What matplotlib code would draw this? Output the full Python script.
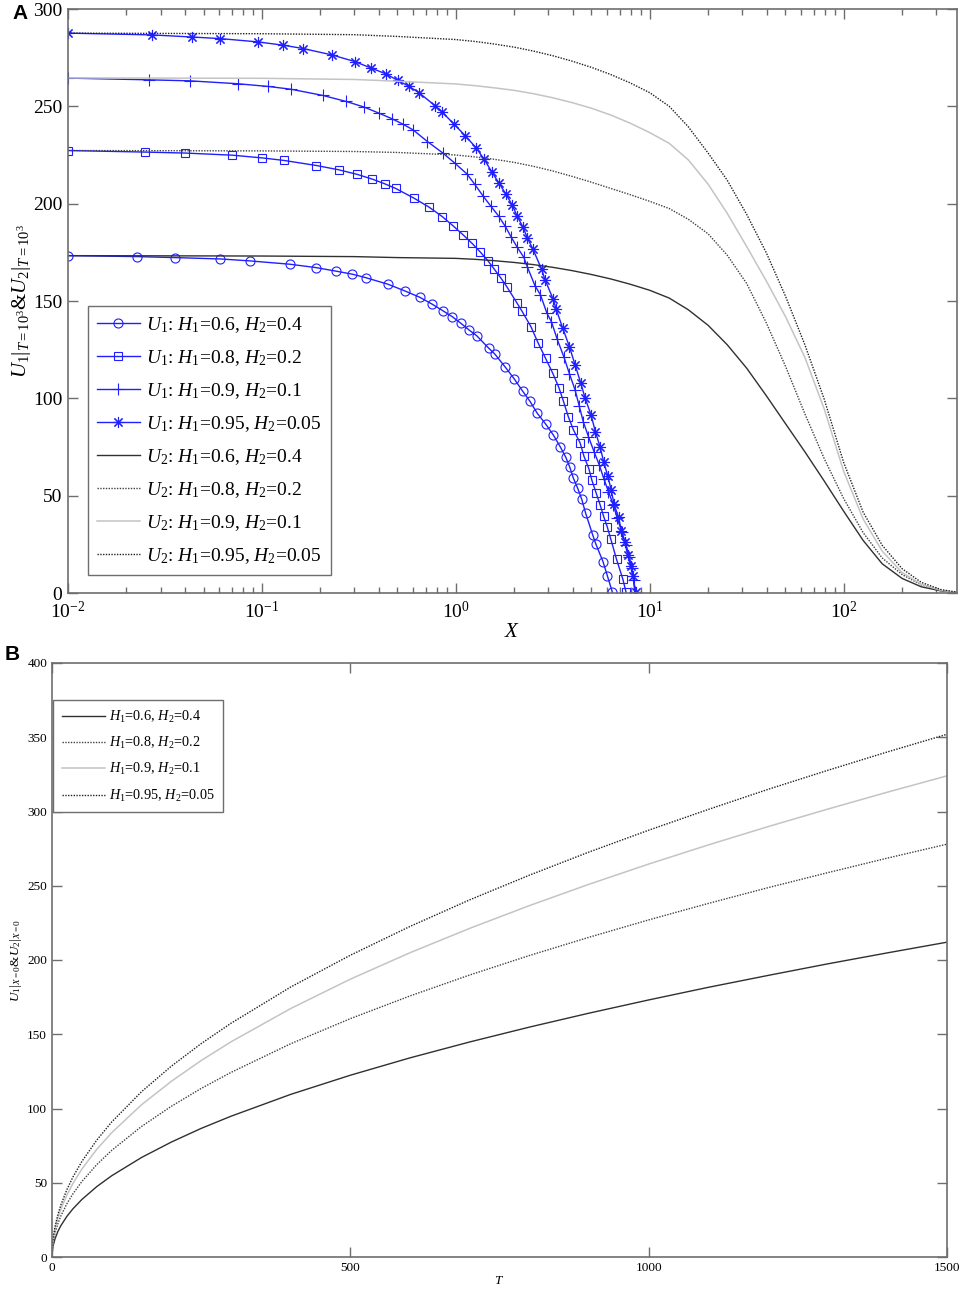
import matplotlib

matplotlib.use('Agg')
import matplotlib.pyplot as plt
from matplotlib.ticker import LogLocator, MultipleLocator, NullFormatter

plt.rcParams['font.family'] = ['Liberation Serif', 'DejaVu Serif']
plt.rcParams['mathtext.fontset'] = 'custom'
plt.rcParams['mathtext.rm'] = 'Liberation Serif'
plt.rcParams['mathtext.it'] = 'Liberation Serif:italic'
plt.rcParams['mathtext.bf'] = 'Liberation Serif:bold'

# ---- Panel A : U1 (markers) ----
x_u1_06 = [0.01, 0.0228, 0.0356, 0.0611, 0.0867, 0.139, 0.189, 0.242, 0.292, 0.343,
           0.447, 0.545, 0.652, 0.754, 0.854, 0.957, 1.06, 1.17, 1.28, 1.48,
           1.59, 1.79, 2.00, 2.21, 2.41, 2.63, 2.91, 3.18, 3.45, 3.69,
           3.87, 4.04, 4.25, 4.46, 4.67, 5.08, 5.27, 5.74, 6.05, 6.42]
u1_06 = [173.3, 172.8, 172.3, 171.6, 170.6, 168.9, 167.2, 165.3, 163.8, 162.0,
         158.6, 155.2, 151.9, 148.4, 145.1, 142.0, 138.6, 135.1, 132.2, 125.7,
         122.7, 116.3, 110.0, 103.7, 98.5, 92.3, 86.7, 81.2, 75.2, 69.7,
         64.6, 58.9, 53.8, 48.1, 41.0, 29.8, 25.2, 16.1, 8.7, 0.3]

x_u1_08 = [0.01, 0.0249, 0.0402, 0.0704, 0.1005, 0.130, 0.191, 0.249, 0.311, 0.371,
           0.430, 0.490, 0.609, 0.728, 0.850, 0.968, 1.09, 1.21, 1.33, 1.46,
           1.58, 1.71, 1.83, 2.06, 2.19, 2.44, 2.66, 2.90, 3.16, 3.40,
           3.58, 3.80, 4.04, 4.37, 4.58, 4.85, 5.03, 5.29, 5.55, 5.78,
           6.04, 6.29, 6.74, 7.27, 7.55]
u1_08 = [227.3, 226.5, 226.0, 224.9, 223.5, 222.2, 219.6, 217.4, 215.0, 212.6,
         210.2, 207.8, 202.8, 198.2, 193.4, 188.6, 184.0, 179.7, 175.4, 170.8,
         166.3, 161.7, 157.4, 149.2, 144.9, 136.8, 128.3, 120.6, 112.9, 105.5,
         98.8, 90.6, 83.8, 77.2, 70.2, 63.9, 57.9, 51.4, 45.2, 39.4,
         33.9, 27.8, 17.3, 7.0, 0.3]

x_u1_09 = [0.01, 0.0263, 0.0425, 0.0752, 0.108, 0.141, 0.206, 0.272, 0.337, 0.401,
           0.469, 0.534, 0.602, 0.714, 0.860, 0.988, 1.14, 1.25, 1.38, 1.51,
           1.66, 1.80, 1.93, 2.07, 2.24, 2.34, 2.56, 2.73, 2.95, 3.11,
           3.33, 3.61, 3.85, 4.12, 4.33, 4.54, 4.83, 5.16, 5.49, 5.81,
           6.12, 6.49, 6.80, 7.17, 7.55, 7.85, 8.07, 8.25, 8.38]
u1_09 = [264.5, 263.6, 263.1, 261.6, 260.2, 258.8, 255.6, 252.5, 249.6, 246.5,
         243.6, 240.8, 237.9, 231.9, 225.9, 220.8, 215.3, 210.0, 204.0, 198.9,
         193.7, 188.3, 182.8, 177.7, 172.5, 167.4, 157.8, 153.2, 143.7, 139.4,
         130.4, 121.2, 112.7, 104.3, 96.0, 88.0, 80.3, 72.6, 65.8, 58.4,
         52.1, 45.2, 38.4, 31.5, 24.7, 18.7, 12.7, 6.5, 0.3]

x_u1_095 = [0.01, 0.0270, 0.0438, 0.0609, 0.0953, 0.129, 0.163, 0.230, 0.301, 0.367,
            0.435, 0.503, 0.574, 0.644, 0.779, 0.845, 0.976, 1.12, 1.27, 1.40,
            1.53, 1.67, 1.81, 1.95, 2.07, 2.22, 2.34, 2.49, 2.77, 2.88,
            3.18, 3.29, 3.56, 3.85, 4.12, 4.40, 4.64, 4.98, 5.24,
            5.55, 5.78, 6.08, 6.32, 6.54, 6.90, 7.14, 7.43, 7.71, 7.97,
            8.19, 8.45]
u1_095 = [287.6, 286.7, 285.6, 284.8, 283.1, 281.4, 279.7, 276.4, 273.0, 269.6,
          266.7, 263.3, 260.2, 257.1, 250.4, 247.3, 241.0, 234.8, 228.8, 222.8,
          216.4, 210.5, 205.0, 199.4, 193.7, 187.9, 182.3, 176.9, 166.3, 161.0,
          150.8, 145.8, 136.0, 126.6, 117.2, 108.1, 100.1, 91.5, 82.9,
          74.9, 67.5, 60.0, 53.1, 45.7, 38.9, 32.0, 26.0, 19.6, 14.0,
          8.5, 0.5]

# ---- Panel A : U2 (plain lines) ----
x_u2 = [0.01, 0.1, 0.3, 0.5, 1, 1.26, 1.58, 2, 2.51, 3.16, 3.98, 5.01, 6.31,
        7.94, 10, 12.6, 15.8, 20, 25.1, 31.6, 39.8, 50.1, 63.1, 79.4, 100,
        126, 158, 200, 251, 316, 384]
u2_06 = [173.3, 173.1, 172.8, 172.3, 171.9, 171.4, 170.7, 169.8, 168.7, 167.3,
         165.6, 163.6, 161.3, 158.6, 155.5, 151.5, 145.5, 137.5, 127.5, 115.5,
         101.5, 87.0, 72.5, 57.5, 42.0, 27.0, 15.0, 7.5, 3.2, 1.1,
         0.3]
u2_08 = [227.3, 227.1, 226.8, 226.3, 225.0, 224.0, 222.8, 221.2, 219.2, 216.8,
         214.0, 211.0, 207.8, 204.6, 201.2, 197.5, 192.0, 184.5, 173.5, 159.0,
         139.0, 116.5, 92.0, 69.0, 48.5, 31.0, 18.0, 9.5, 4.2, 1.3,
         0.3]
u2_09 = [264.6, 264.4, 263.8, 262.9, 261.5, 260.6, 259.5, 258.2, 256.5, 254.4,
         251.9, 249.0, 245.5, 241.3, 236.5, 231.0, 222.5, 210.0, 195.0, 178.0,
         160.5, 142.0, 121.0, 94.5, 62.5, 38.0, 21.5, 10.5, 4.5, 1.4,
         0.3]
u2_095 = [287.6, 287.3, 286.8, 285.9, 284.3, 283.3, 282.0, 280.4, 278.4, 276.0,
          273.2, 270.0, 266.3, 262.0, 257.0, 250.0, 239.5, 226.0, 212.0, 194.5,
          175.0, 152.5, 127.5, 99.5, 67.0, 41.5, 24.5, 12.5, 5.5, 1.8,
          0.4]

# ---- Panel B ----
t_vals = [0, 1, 2, 5, 10, 15, 25, 35, 50, 75, 100, 150, 200, 250, 300, 400, 500,
          600, 700, 800, 900, 1000, 1100, 1200, 1300, 1400, 1500]
b_06 = [0, 5.5, 7.7, 12.2, 17.3, 21.2, 27.4, 32.4, 38.7, 47.4, 54.7, 67.0, 77.4,
        86.6, 94.8, 109.5, 122.4, 134.1, 144.8, 154.8, 164.2, 173.1, 181.6, 189.6,
        197.4, 204.8, 212.0]
b_08 = [0, 7.2, 10.2, 16.0, 22.7, 27.8, 35.9, 42.5, 50.8, 62.2, 71.8, 87.9, 101.5,
        113.5, 124.3, 143.6, 160.5, 175.8, 189.9, 203.0, 215.3, 227.0, 238.1, 248.7,
        258.8, 268.6, 278.0]
b_09 = [0, 8.4, 11.8, 18.7, 26.5, 32.4, 41.8, 49.5, 59.2, 72.5, 83.7, 102.5, 118.3,
        132.3, 144.9, 167.3, 187.1, 204.9, 221.3, 236.6, 251.0, 264.6, 277.5, 289.8,
        301.6, 313.0, 324.0]
b_095 = [0, 9.1, 12.9, 20.3, 28.7, 35.2, 45.4, 53.8, 64.3, 78.7, 90.9, 111.3, 128.5,
         143.7, 157.4, 181.8, 203.2, 222.6, 240.5, 257.1, 272.7, 287.4, 301.4, 314.9,
         327.7, 340.1, 352.0]

h_labels = ['$H_1$=0.6, $H_2$=0.4', '$H_1$=0.8, $H_2$=0.2',
            '$H_1$=0.9, $H_2$=0.1', '$H_1$=0.95, $H_2$=0.05']

BLUE = '#1f1fff'
DOT = (0, (1, 1))
SPINE = '#6e6e6e'
u2_styles = [('#303030', '-', 1.0), ('#404040', DOT, 1.0),
             ('#c4c4c4', '-', 1.1), ('#202020', DOT, 1.0)]


def style_axes(ax, size, major_len, minor_len):
  for sp in ax.spines.values():
    sp.set_color(SPINE)
    sp.set_linewidth(1.2)
  ax.tick_params(which='both', direction='in', top=True, right=True,
                 colors=SPINE, labelcolor='black', labelsize=size, width=1.0)
  ax.tick_params(which='major', length=major_len)
  ax.tick_params(which='minor', length=minor_len)


fig = plt.figure(figsize=(9.62, 12.93), dpi=100)

# ================= Panel A =================
ax1 = fig.add_axes([68 / 962, 1 - 593 / 1293, 889 / 962, 584 / 1293])
mk = dict(color=BLUE, lw=1.0, mfc='none', mec=BLUE, mew=0.8)
ax1.plot(x_u1_06, u1_06, marker='o', ms=6.5, label='$U_1$: ' + h_labels[0], **mk)
ax1.plot(x_u1_08, u1_08, marker='s', ms=5.5, label='$U_1$: ' + h_labels[1], **mk)
ax1.plot(x_u1_09, u1_09, marker='+', ms=9, label='$U_1$: ' + h_labels[2], **mk)
ax1.plot(x_u1_095, u1_095, marker=(8, 2, 0), ms=8, label='$U_1$: ' + h_labels[3], **mk)
for vals, (c, ls, lw), lab in zip([u2_06, u2_08, u2_09, u2_095], u2_styles, h_labels):
  ax1.plot(x_u2, vals, color=c, ls=ls, lw=lw, label='$U_2$: ' + lab)

ax1.set_xscale('log')
ax1.set_xlim(0.01, 384)
ax1.set_ylim(0, 300)
ax1.yaxis.set_major_locator(MultipleLocator(50))
ax1.xaxis.set_major_locator(LogLocator(base=10, numticks=10))
ax1.xaxis.set_minor_locator(LogLocator(base=10, subs=range(2, 10), numticks=20))
ax1.xaxis.set_minor_formatter(NullFormatter())
style_axes(ax1, 14, 7, 4)
ax1.tick_params(axis='y', pad=4)
ax1.tick_params(axis='x', pad=6)
ax1.set_xlabel('$X$', fontsize=15, labelpad=0)
ax1.set_ylabel(r'$U_1{|}_{T=10^3}$&$U_2{|}_{T=10^3}$', fontsize=15, labelpad=0)

leg1 = ax1.legend(loc='upper left', bbox_to_anchor=(88 / 962, 1 - 306 / 1293),
                  bbox_transform=fig.transFigure, borderaxespad=0,
                  fontsize=14, handlelength=2.2, labelspacing=0.68,
                  handletextpad=0.35, borderpad=0.45, fancybox=False,
                  framealpha=1, edgecolor=SPINE)
leg1.get_frame().set_linewidth(1.0)

# ================= Panel B =================
ax2 = fig.add_axes([52 / 962, 1 - 1257 / 1293, 895 / 962, 594 / 1293])
for vals, (c, ls, lw), lab in zip([b_06, b_08, b_09, b_095], u2_styles, h_labels):
  ax2.plot(t_vals, vals, color=c, ls=ls, lw=lw, label=lab)
ax2.set_xlim(0, 1500)
ax2.set_ylim(0, 400)
ax2.xaxis.set_major_locator(MultipleLocator(500))
ax2.yaxis.set_major_locator(MultipleLocator(50))
style_axes(ax2, 9.5, 7, 0)
ax2.set_xlabel('$T$', fontsize=9.5, labelpad=1)
ax2.set_ylabel(r'$U_1{|}_{X=0}$&$U_2{|}_{X=0}$', fontsize=9.5, labelpad=2)

leg2 = ax2.legend(loc='upper left', bbox_to_anchor=(53 / 962, 1 - 700 / 1293),
                  bbox_transform=fig.transFigure, borderaxespad=0,
                  fontsize=10.3, handlelength=3.0, labelspacing=0.72,
                  handletextpad=0.3, borderpad=0.6, fancybox=False,
                  framealpha=1, edgecolor=SPINE)
leg2.get_frame().set_linewidth(1.0)

fig.text(12 / 962, 1 - 4 / 1293, 'A', family='Liberation Sans', weight='bold',
         fontsize=15, va='top', ha='left')
fig.text(5 / 962, 1 - 645 / 1293, 'B', family='Liberation Sans', weight='bold',
         fontsize=15, va='top', ha='left')

fig.savefig('out.png', dpi=100)
plt.close(fig)
